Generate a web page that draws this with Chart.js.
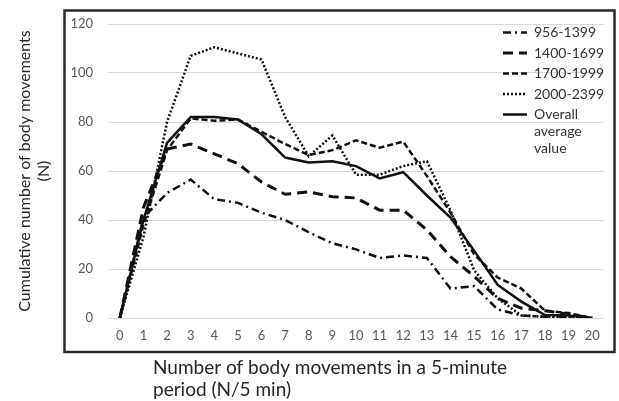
<!DOCTYPE html>
<html>
<head>
<meta charset="utf-8">
<script src="https://cdn.jsdelivr.net/npm/chart.js@4/dist/chart.umd.min.js"></script>
<style>
  html, body { margin: 0; padding: 0; background: #fff; }
  #wrap { width: 619px; height: 401px; }
</style>
</head>
<body>
<div id="wrap"><canvas id="grafico"></canvas></div>
<script>
// Datos
const etiquetas = ['0','1','2','3','4','5','6','7','8','9','10','11','12','13','14','15','16','17','18','19','20'];
const g956 = [0, 41, 51, 56.5, 48.5, 47, 43, 40, 35, 30.5, 28, 24.5, 25.5, 24.5, 12, 13, 3.5, 1, 0.5, 0.5, 0];
const g1400 = [0, 45, 69, 71, 67, 63, 55.5, 50.5, 51.5, 49.5, 49, 44, 44, 36, 25, 17, 8, 4, 3, 1.5, 0];
const g1700 = [0, 38, 68.5, 81.5, 80.5, 81, 76, 71, 66.5, 68.5, 72.5, 69.5, 72, 58, 43, 26, 16.5, 12, 3, 2, 0];
const g2000 = [0, 33, 80, 107, 110.5, 108, 105.5, 82, 66, 74.5, 58.5, 58.5, 62, 64, 44, 19.5, 8, 1, 0.5, 0.5, 0];
const promedio = [0, 40, 71.5, 82, 82, 81, 75, 65.5, 63.5, 64, 62, 57, 59.5, 50, 41, 27.5, 13.5, 6.7, 1.2, 1, 0];

const tituloX = ['Number of body movements in a 5-minute', 'period (N/5 min)'];
const tituloY = ['Cumulative number of body movements', '(N)'];

const negro = '#111';

// Marco exterior, titulo del eje X y posicion de la leyenda
const extras = {
  id: 'extras',
  afterLayout(chart) {
    const lg = chart.legend;
    const h = lg.height;
    lg.left = 496.5;
    lg.right = lg.left + lg.width;
    lg.top = 19;
    lg.bottom = lg.top + h;
  },
  afterDraw(chart) {
    const ctx = chart.ctx;
    ctx.save();
    ctx.strokeStyle = '#2b2b2b';
    ctx.lineWidth = 2.5;
    ctx.strokeRect(64.5, 10.5, 550, 341.5);
    ctx.fillStyle = '#262626';
    ctx.font = '19px Lato';
    ctx.textAlign = 'left';
    ctx.textBaseline = 'middle';
    ctx.fillText(tituloX[0], 153, 368);
    ctx.fillText(tituloX[1], 153, 390);
    ctx.restore();
  }
};

function serie(nombre, datos, dash, ancho) {
  return {
    label: nombre,
    data: datos,
    borderColor: negro,
    backgroundColor: negro,
    borderWidth: ancho,
    borderDash: dash,
    pointRadius: 0,
    fill: false,
    tension: 0
  };
}

new Chart(document.getElementById('grafico'), {
  type: 'line',
  data: {
    labels: etiquetas,
    datasets: [
      serie('956-1399', g956, [8, 4, 2, 4], 2.5),
      serie('1400-1699', g1400, [10, 6], 3),
      serie('1700-1999', g1700, [6, 3], 2.5),
      serie('2000-2399', g2000, [2, 2], 2.5),
      serie(['Overall', 'average', 'value'], promedio, [], 2.5)
    ]
  },
  options: {
    responsive: true,
    maintainAspectRatio: false,
    animation: false,
    layout: { padding: { left: 0, right: 15, top: 24, bottom: 0 } },
    plugins: {
      legend: {
        position: 'chartArea',
        align: 'start',
        labels: {
          usePointStyle: true,
          pointStyle: 'line',
          pointStyleWidth: 24,
          padding: 6.5,
          color: '#333',
          font: { family: 'Lato', size: 14 },
          // la muestra de linea usa el trazo de cada serie
          generateLabels(chart) {
            return chart.data.datasets.map((ds, i) => ({
              text: ds.label,
              datasetIndex: i,
              strokeStyle: ds.borderColor,
              fillStyle: ds.borderColor,
              fontColor: '#333',
              lineWidth: ds.borderWidth,
              lineDash: ds.borderDash,
              lineCap: 'butt',
              pointStyle: 'line',
              hidden: false
            }));
          }
        }
      },
      tooltip: { enabled: false }
    },
    scales: {
      x: {
        offset: true,
        grid: { display: false, drawTicks: false },
        border: { display: false },
        ticks: { color: '#595959', font: { family: 'Lato', size: 13 }, padding: 10, maxRotation: 0, autoSkip: false },
        afterFit(scale) { scale.height = 83; }
      },
      y: {
        min: 0,
        max: 120,
        grid: { color: '#d9d9d9', drawTicks: false },
        border: { display: false },
        ticks: { stepSize: 20, color: '#595959', font: { family: 'Lato', size: 13 }, padding: 15 },
        title: {
          display: true,
          text: tituloY,
          color: '#262626',
          font: { family: 'Lato', size: 16 },
          padding: { top: 15, bottom: 0 }
        },
        afterFit(scale) { scale.width = 108; }
      }
    }
  },
  plugins: [extras]
});
</script>
</body>
</html>
